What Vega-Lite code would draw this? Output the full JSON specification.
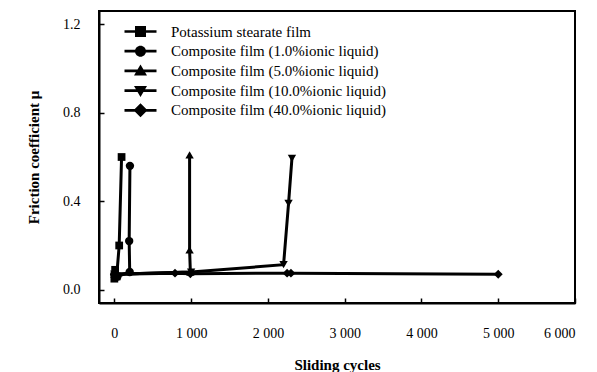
{
  "$schema": "https://vega.github.io/schema/vega-lite/v6.json",
  "width": 476,
  "height": 292,
  "autosize": {"type": "none"},
  "padding": {"left": 99, "top": 11, "right": 22, "bottom": 69},
  "background": "white",
  "config": {
    "font": "Liberation Serif",
    "view": {"stroke": "black", "strokeWidth": 2},
    "axis": {"grid": false, "domainColor": "black", "domainWidth": 2, "tickColor": "black", "tickWidth": 1.5, "labelColor": "black", "labelFont": "Liberation Serif", "labelFontSize": 14, "titleFont": "Liberation Serif", "titleFontSize": 15, "titleFontWeight": "bold", "titleColor": "black"},
    "legend": {"labelFont": "Liberation Serif", "labelFontSize": 15, "labelColor": "black", "labelLimit": 400}
  },
  "data": {"values": [
    {"series": "Potassium stearate film", "i": 1, "x": 0, "y": 0.05},
    {"series": "Potassium stearate film", "i": 2, "x": 10, "y": 0.09},
    {"series": "Potassium stearate film", "i": 3, "x": 30, "y": 0.06},
    {"series": "Potassium stearate film", "i": 4, "x": 63, "y": 0.2},
    {"series": "Potassium stearate film", "i": 5, "x": 94, "y": 0.6},
    {"series": "Composite film (1.0%ionic liquid)", "i": 1, "x": 0, "y": 0.07},
    {"series": "Composite film (1.0%ionic liquid)", "i": 2, "x": 40, "y": 0.06},
    {"series": "Composite film (1.0%ionic liquid)", "i": 3, "x": 200, "y": 0.08},
    {"series": "Composite film (1.0%ionic liquid)", "i": 4, "x": 193, "y": 0.22},
    {"series": "Composite film (1.0%ionic liquid)", "i": 5, "x": 203, "y": 0.56},
    {"series": "Composite film (5.0%ionic liquid)", "i": 1, "x": 0, "y": 0.07},
    {"series": "Composite film (5.0%ionic liquid)", "i": 2, "x": 990, "y": 0.08},
    {"series": "Composite film (5.0%ionic liquid)", "i": 3, "x": 980, "y": 0.18},
    {"series": "Composite film (5.0%ionic liquid)", "i": 4, "x": 980, "y": 0.61},
    {"series": "Composite film (10.0%ionic liquid)", "i": 1, "x": 0, "y": 0.07},
    {"series": "Composite film (10.0%ionic liquid)", "i": 2, "x": 1000, "y": 0.08},
    {"series": "Composite film (10.0%ionic liquid)", "i": 3, "x": 2204, "y": 0.113},
    {"series": "Composite film (10.0%ionic liquid)", "i": 4, "x": 2269, "y": 0.39},
    {"series": "Composite film (10.0%ionic liquid)", "i": 5, "x": 2313, "y": 0.594},
    {"series": "Composite film (40.0%ionic liquid)", "i": 1, "x": 0, "y": 0.07},
    {"series": "Composite film (40.0%ionic liquid)", "i": 2, "x": 790, "y": 0.075},
    {"series": "Composite film (40.0%ionic liquid)", "i": 3, "x": 990, "y": 0.072},
    {"series": "Composite film (40.0%ionic liquid)", "i": 4, "x": 2250, "y": 0.075},
    {"series": "Composite film (40.0%ionic liquid)", "i": 5, "x": 2300, "y": 0.075},
    {"series": "Composite film (40.0%ionic liquid)", "i": 6, "x": 5000, "y": 0.07}
  ]},
  "encoding": {
    "x": {"field": "x", "type": "quantitative", "scale": {"domain": [-200, 6000], "nice": false, "zero": false},
      "axis": {"title": "Sliding cycles", "values": [0, 1000, 2000, 3000, 4000, 5000, 6000], "labelExpr": "replace(format(datum.value, ','), ',', ' ')", "tickSize": -5, "labelPadding": 28, "titlePadding": 17}},
    "y": {"field": "y", "type": "quantitative", "scale": {"domain": [-0.06, 1.26], "nice": false, "zero": false},
      "axis": {"title": "Friction coefficient  μ", "values": [0, 0.4, 0.8, 1.2], "format": ".1f", "tickSize": -5, "labelPadding": 24, "titlePadding": 21}}
  },
  "layer": [
    {
      "mark": {"type": "line", "color": "black", "strokeWidth": 3},
      "encoding": {"detail": {"field": "series"}, "order": {"field": "i"}}
    },
    {
      "transform": [{"filter": "datum.series == 'Potassium stearate film'"}],
      "mark": {"type": "point", "shape": "square", "filled": true, "color": "black", "opacity": 1, "size": 60}
    },
    {
      "transform": [{"filter": "datum.series == 'Composite film (1.0%ionic liquid)'"}],
      "mark": {"type": "point", "shape": "circle", "filled": true, "color": "black", "opacity": 1, "size": 70}
    },
    {
      "transform": [{"filter": "datum.series == 'Composite film (5.0%ionic liquid)'"}],
      "mark": {"type": "point", "shape": "triangle-up", "filled": true, "color": "black", "opacity": 1, "size": 70}
    },
    {
      "transform": [{"filter": "datum.series == 'Composite film (10.0%ionic liquid)'"}],
      "mark": {"type": "point", "shape": "triangle-down", "filled": true, "color": "black", "opacity": 1, "size": 70}
    },
    {
      "transform": [{"filter": "datum.series == 'Composite film (40.0%ionic liquid)'"}],
      "mark": {"type": "point", "shape": "diamond", "filled": true, "color": "black", "opacity": 1, "size": 80}
    },
    {
      "transform": [{"filter": "datum.x < -100000"}],
      "mark": {"type": "point", "filled": true, "color": "black", "opacity": 1},
      "encoding": {
        "shape": {"field": "series", "type": "nominal",
          "scale": {"domain": ["Potassium stearate film", "Composite film (1.0%ionic liquid)", "Composite film (5.0%ionic liquid)", "Composite film (10.0%ionic liquid)", "Composite film (40.0%ionic liquid)"],
            "range": [
              "M-3.2,-0.27H3.2V0.27H-3.2ZM-1.1,-1.1H1.1V1.1H-1.1Z",
              "M-3.2,-0.27H3.2V0.27H-3.2ZM-1.1,0A1.1,1.1,0,1,1,1.1,0A1.1,1.1,0,1,1,-1.1,0Z",
              "M-3.2,-0.27H3.2V0.27H-3.2ZM0,-1.3L1.3,0.9H-1.3Z",
              "M-3.2,-0.27H3.2V0.27H-3.2ZM0,1.3L-1.3,-0.9H1.3Z",
              "M-3.2,-0.27H3.2V0.27H-3.2ZM0,-1.4L1.4,0L0,1.4L-1.4,0Z"
            ]},
          "legend": {"title": null, "orient": "none", "legendX": 34, "legendY": 13, "padding": 0, "symbolSize": 100, "labelOffset": 23, "rowPadding": 3.7, "symbolStrokeWidth": 0, "symbolFillColor": "black", "symbolOpacity": 1}}
      }
    }
  ]
}
